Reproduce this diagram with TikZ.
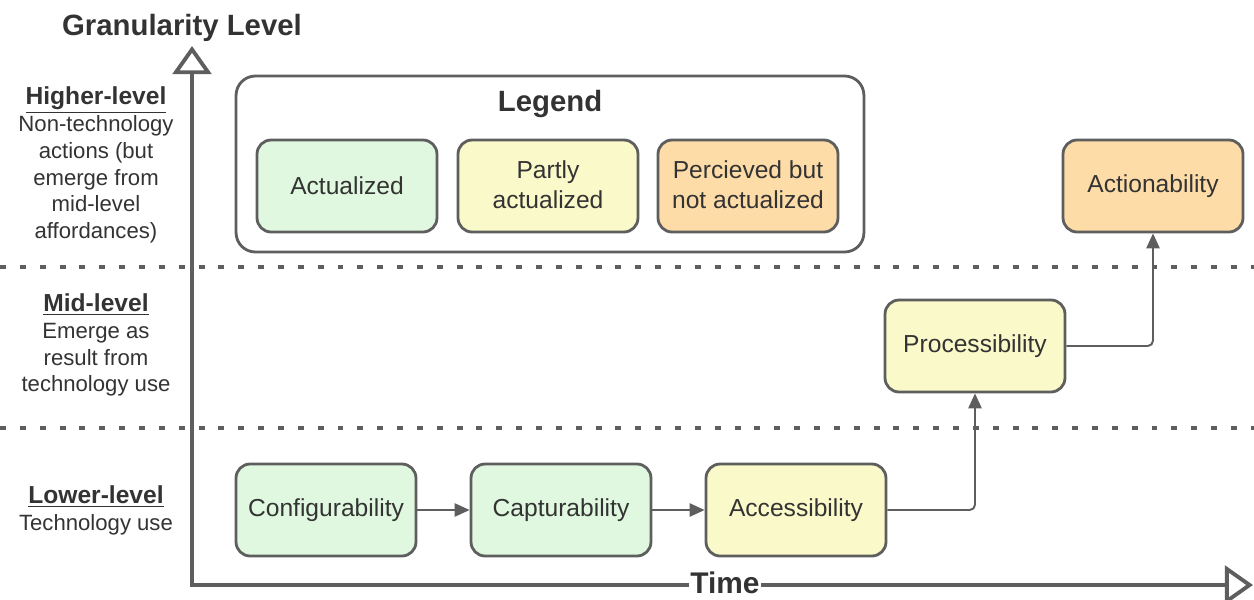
\documentclass[tikz,border=0pt]{standalone}
\usepackage{fontspec}
\setmainfont{Liberation Sans}
\usetikzlibrary{arrows.meta, positioning}

\definecolor{linegray}{HTML}{5E5E5E}
\definecolor{textgray}{HTML}{333333}
\definecolor{actgreen}{HTML}{E0F8DF}
\definecolor{partyellow}{HTML}{FAF9C9}
\definecolor{percorange}{HTML}{FDDCA8}

\begin{document}
\begin{tikzpicture}[x=0.02cm, y=-0.02cm, thick,
    box/.style={draw=linegray, line width=1.6pt, rounded corners=8pt,
        minimum width=3.6cm, minimum height=1.84cm, align=center,
        text=textgray, font=\fontsize{14}{17}\selectfont},
    actualized/.style={box, fill=actgreen},
    partly/.style={box, fill=partyellow},
    perceived/.style={box, fill=percorange},
    conn/.style={draw=linegray, line width=1.1pt, rounded corners=3pt,
        -{Triangle[length=8.5pt, width=7.5pt]}},
    axis/.style={draw=linegray, line width=2.2pt,
        {Triangle[open, length=16pt, width=22pt]}-{Triangle[open, length=16pt, width=22pt]}},
    levelline/.style={draw=linegray, line width=1.8pt, dash pattern=on 3.4pt off 7.9pt},
    levellabel/.style={align=center, text=textgray, font=\fontsize{12.6}{15.3}\selectfont},
    heading/.style={text=textgray, font=\fontsize{14}{17}\selectfont\bfseries}]

    % 1. Fix the canvas
    \useasboundingbox (0,0) rectangle (1254,599);

    % 2. Level separators
    \draw[levelline] (0,267) -- (1254,267);
    \draw[levelline] (0,428) -- (1254,428);

    % 3. Axes
    \coordinate (O) at (192,585);
    \coordinate (ytip) at (192,46);
    \coordinate (xtip) at (1253,585);
    \draw[axis] (ytip) -- (O) -- (xtip);
    \node[heading, font=\fontsize{16.7}{20}\selectfont\bfseries] (ylabel) at (182,28) {Granularity Level};
    \node[heading, font=\fontsize{17}{20}\selectfont\bfseries, fill=white, inner sep=1pt] (xlabel) at (725,583) {Time};

    % 4. Level labels on the left
    \node[levellabel] (higher) at (96,165)
        {{\fontsize{14}{17}\selectfont\bfseries\underline{Higher-level}}\\Non-technology\\actions (but\\emerge from\\mid-level\\affordances)};
    \node[levellabel] (mid) at (96,345)
        {{\fontsize{14}{17}\selectfont\bfseries\underline{Mid-level}}\\Emerge as\\result from\\technology use};
    \node[levellabel] (lower) at (96,510)
        {{\fontsize{14}{17}\selectfont\bfseries\underline{Lower-level}}\\Technology use};

    % 5. Legend
    \node[draw=linegray, line width=1.6pt, rounded corners=11pt,
        minimum width=12.56cm, minimum height=3.52cm] (legend) at (550,164) {};
    \node[heading, font=\fontsize{16.7}{20}\selectfont\bfseries] (legendtitle) at (550,104) {Legend};
    \node[actualized] (keyact) at (347,186) {Actualized};
    \node[partly] (keypart) at (548,186) {\raisebox{2pt}{Partly}\\\raisebox{2pt}{actualized}};
    \node[perceived] (keyperc) at (748,186) {\raisebox{2pt}{Percieved but}\\\raisebox{2pt}{not actualized}};

    % 6. Affordances
    \node[actualized] (config) at (326,510) {Configurability};
    \node[actualized] (captur) at (561,510) {Capturability};
    \node[partly] (access) at (796,510) {Accessibility};
    \node[partly] (proc) at (975,346) {Processibility};
    \node[perceived] (action) at (1153,186) {Actionability};

    % 7. Connectors
    \draw[conn] (config) -- (captur);
    \draw[conn] (captur) -- (access);
    \draw[conn] (access.east) -| (proc.south);
    \draw[conn] (proc.east) -| (action.south);

\end{tikzpicture}
\end{document}
